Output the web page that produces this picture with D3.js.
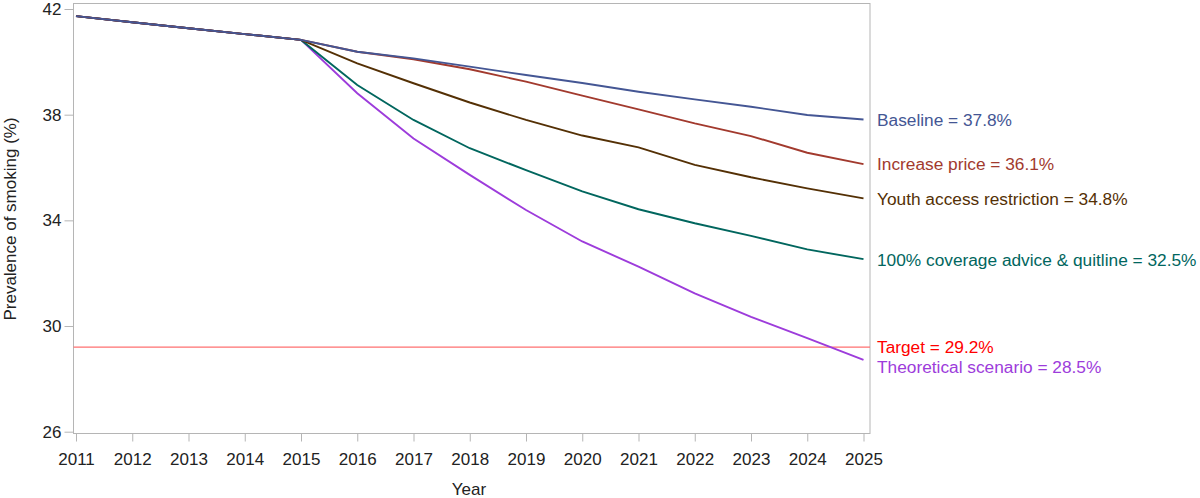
<!DOCTYPE html>
<html><head><meta charset="utf-8">
<script src="https://cdn.jsdelivr.net/npm/d3@7"></script>
<style>body{margin:0;background:#fff;} text{font-family:"Liberation Sans",Arial,sans-serif;}</style>
</head><body><svg id="c" width="1200" height="498"></svg>
<script>
const years = [2011,2012,2013,2014,2015,2016,2017,2018,2019,2020,2021,2022,2023,2024,2025];
const yTicks = [26,30,34,38,42];
const baseline = [41.73,41.5,41.27,41.05,40.83,40.38,40.13,39.82,39.5,39.2,38.87,38.58,38.3,37.99,37.82];
const increasePrice = [41.73,41.5,41.27,41.05,40.83,40.38,40.1,39.72,39.25,38.72,38.2,37.67,37.19,36.56,36.13];
const youthAccess = [41.73,41.5,41.27,41.05,40.83,39.94,39.19,38.46,37.8,37.21,36.76,36.1,35.63,35.21,34.83];
const coverage = [41.73,41.5,41.27,41.05,40.83,39.12,37.8,36.73,35.9,35.1,34.42,33.89,33.41,32.9,32.53];
const theoretical = [41.73,41.5,41.27,41.05,40.83,38.81,37.1,35.72,34.39,33.2,32.25,31.24,30.35,29.54,28.72];
const target = 29.2;
const seriesNames = ["Baseline = 37.8%","Increase price = 36.1%","Youth access restriction = 34.8%","100% coverage advice & quitline = 32.5%","Theoretical scenario = 28.5%"];
const seriesColors = ["#445694","#A23A2E","#543005","#01665E","#9D3CDB"];
const seriesData = [baseline,increasePrice,youthAccess,coverage,theoretical];

const svg = d3.select("#c");
const L=73.5, R=870, T=3.5, B=433.5;
const x = d3.scaleLinear().domain([2011,2025]).range([76,863.5]);
const y = d3.scaleLinear().domain([26,42]).range([431.7,9]);

// frame
svg.append("rect").attr("x",L).attr("y",T).attr("width",R-L).attr("height",B-T)
  .attr("fill","none").attr("stroke","#b5b5b5").attr("stroke-width",1);

// y axis
const ya = svg.append("g").attr("transform",`translate(${L},0)`)
  .call(d3.axisLeft(y).tickValues(yTicks).tickSize(9).tickPadding(3).tickFormat(d3.format("d")));
ya.select(".domain").remove();
ya.selectAll("line").attr("stroke","#b5b5b5");
ya.selectAll("text").attr("font-size",17).attr("fill","#222").style("font-family","Liberation Sans, Arial, sans-serif");

// x axis
const xa = svg.append("g").attr("transform",`translate(0,${B})`)
  .call(d3.axisBottom(x).tickValues(years).tickSize(8).tickPadding(11).tickFormat(d3.format("d")));
xa.select(".domain").remove();
xa.selectAll("line").attr("stroke","#b5b5b5");
xa.selectAll("text").attr("font-size",17).attr("fill","#222").style("font-family","Liberation Sans, Arial, sans-serif");

// axis titles
svg.append("text").attr("x",469).attr("y",495).attr("text-anchor","middle")
  .attr("font-size",17).attr("fill","#222").text("Year");
svg.append("text").attr("transform","translate(16,219) rotate(-90)").attr("text-anchor","middle")
  .attr("font-size",17).attr("fill","#222").text("Prevalence of smoking (%)");

// target line
svg.append("line").attr("x1",L).attr("x2",R).attr("y1",y(target)).attr("y2",y(target))
  .attr("stroke","#ff7070").attr("stroke-width",1.3);

const line = d3.line().x((d,i)=>x(years[i])).y(d=>y(d));
[4,3,2,1,0].forEach(k=>{
  svg.append("path").datum(seriesData[k]).attr("d",line).attr("fill","none")
    .attr("stroke",seriesColors[k]).attr("stroke-width",1.9);
});

// labels
const lbl = [
  {t:seriesNames[0],c:seriesColors[0],y:120},
  {t:seriesNames[1],c:seriesColors[1],y:164},
  {t:seriesNames[2],c:seriesColors[2],y:199},
  {t:seriesNames[3],c:seriesColors[3],y:260},
  {t:"Target = 29.2%",c:"#ff0000",y:347},
  {t:seriesNames[4],c:seriesColors[4],y:367}
];
lbl.forEach(d=>{
  svg.append("text").attr("x",877).attr("y",d.y).attr("dy","0.36em")
    .attr("font-size",17.3).attr("fill",d.c).text(d.t);
});
</script></body></html>
